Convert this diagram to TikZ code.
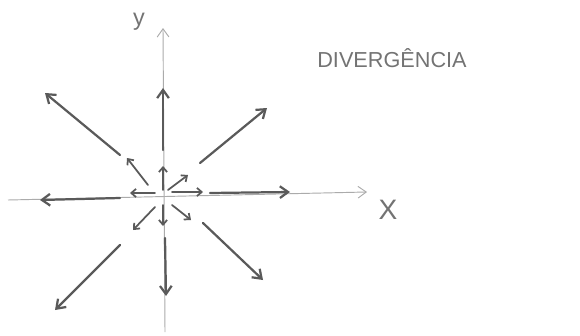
\documentclass[tikz,border=0pt]{standalone}
\usepackage{fontspec}
\setmainfont{Liberation Sans}
\usetikzlibrary{arrows.meta}
\definecolor{pencil}{HTML}{5A5A5A}
\definecolor{pencillight}{HTML}{ABABAB}
\tikzset{
  axisline/.style={-{Straight Barb[length=7pt,width=10pt]},pencillight,line width=0.8pt},
  fieldarrow/.style={-{Straight Barb[length=7pt,width=10pt]},pencil,line width=1.9pt,line cap=round},
  innerarrow/.style={-{Straight Barb[length=4pt,width=7pt]},pencil,line width=1.5pt,line cap=round},
  handtext/.style={text=pencil!85,inner sep=0pt}
}
\begin{document}
\begin{tikzpicture}[x=0.03cm,y=-0.03cm]
\useasboundingbox (0,0) rectangle (580,336);
% axes
\coordinate (xleft) at (8,200);
\coordinate (xright) at (367,192);
\coordinate (ybottom) at (165,332);
\coordinate (ytop) at (163,28);
\draw[axisline] (xleft)--(xright);
\draw[axisline] (ybottom)--(ytop);
\node[handtext,font=\fontsize{24}{24}\selectfont] (xlabel) at (388,210) {X};
\node[handtext,font=\fontsize{20}{20}\selectfont] (ylabel) at (139,22) {y};
\node[handtext,font=\fontsize{18.5}{18.5}\selectfont] (divlabel) at (392,58) {DIVERGÊNCIA};
% outer field arrows
\foreach \xa/\ya/\xb/\yb in {163/150/163/88, 200/163/267/108, 120/155/45/93, 120/198/40/200,
  210/193/290/192, 203/223/263/280, 165/238/166/296, 120/245/55/310}
  {\draw[fieldarrow] (\xa,\ya)--(\xb,\yb);}
% short arrows near the origin
\foreach \xa/\ya/\xb/\yb in {163/190/163/166, 155/193/130/193, 172/192/203/192, 168/190/188/175,
  163/205/163/226, 172/205/191/220, 155/207/133/230, 148/185/127/158}
  {\draw[innerarrow] (\xa,\ya)--(\xb,\yb);}
\end{tikzpicture}
\end{document}
